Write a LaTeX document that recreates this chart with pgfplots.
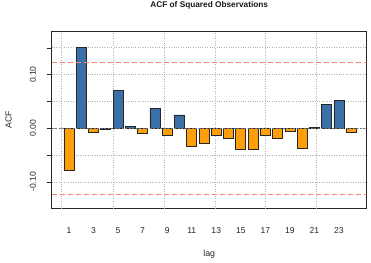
\documentclass[border=0pt]{standalone}
\usepackage{pgfplots}
\pgfplotsset{compat=1.18}
\usepackage{fontspec}
\setmainfont{Liberation Sans}
\definecolor{barblue}{RGB}{58,111,168}
\definecolor{barorange}{RGB}{255,158,11}
\definecolor{salmonred}{RGB}{250,128,114}
\begin{document}
\begin{tikzpicture}
\begin{axis}[
  scale only axis,
  width=315bp, height=176.6bp,
  xmin=-0.41, xmax=25.26,
  ymin=-0.149, ymax=0.18,
  axis line style={black!85, line width=0.8bp},
  xtick={1,3,...,23},
  xtick style={draw=none},
  ytick={-0.1,-0.05,0,0.05,0.1,0.15},
  yticklabels={-0.10,,0.00,,0.10,},
  ytick pos=left, xtick pos=bottom,
  tick align=outside,
  major tick length=5bp,
  ytick style={black!85, line width=0.6bp},
  ymajorgrids,
  extra x ticks={0.405,4.61,8.74,12.9,17.03,21.19},
  extra x tick labels={},
  extra x tick style={xmajorgrids=true, tick style={draw=none}},
  major grid style={black!30, dotted, line width=0.7bp},
  /pgf/number format/assume math mode=true,
  tick label style={font=\fontsize{8.6}{10}\selectfont, black!85},
  yticklabel style={rotate=90, anchor=center},
  yticklabel shift=13.7bp,
  xticklabel style={anchor=center},
  xticklabel shift=17bp,
]
\coordinate (bl) at (rel axis cs:0,0);
\coordinate (tr) at (rel axis cs:1,1);
\coordinate (bc) at (rel axis cs:0.5,0);
\coordinate (tc) at (rel axis cs:0.5,1);
\coordinate (lc) at (rel axis cs:0,0.5);
\addplot[salmonred, line width=0.9bp, dash pattern=on 5bp off 3bp, forget plot] coordinates {(-0.41,0.123) (25.26,0.123)};
\addplot[salmonred, line width=0.9bp, dash pattern=on 5bp off 3bp, forget plot] coordinates {(-0.41,-0.123) (25.26,-0.123)};
\addplot[ybar, bar width=0.82, bar shift=0pt, fill=barblue, draw=black!85, line width=0.7bp] coordinates {
(2,0.150) (5,0.071) (6,0.003) (8,0.0365) (10,0.025) (21,0.002) (22,0.045) (23,0.052)
};
\addplot[ybar, bar width=0.82, bar shift=0pt, fill=barorange, draw=black!85, line width=0.7bp] coordinates {
(1,-0.079) (3,-0.0075) (4,-0.002) (7,-0.009) (9,-0.013) (11,-0.0335) (12,-0.0286) (13,-0.013) (14,-0.019) (15,-0.040) (16,-0.039) (17,-0.013) (18,-0.019) (19,-0.005) (20,-0.038) (24,-0.008)
};
\addplot[black!55, line width=0.6bp, dash pattern=on 2bp off 1.5bp, forget plot] coordinates {(-0.41,0) (25.26,0)};
\addplot[salmonred, line width=0.9bp, dash pattern=on 5bp off 3bp, forget plot] coordinates {(-0.41,0.123) (25.26,0.123)};
\end{axis}
\node[font=\bfseries\fontsize{8.3}{10}\selectfont, black!90, anchor=center] at ([yshift=26.5bp]tc) {ACF of Squared Observations};
\node[font=\fontsize{8.8}{10}\selectfont, black!85, anchor=center] at ([yshift=-45.7bp]bc) {lag};
\node[font=\fontsize{8.8}{10}\selectfont, black!85, anchor=center, rotate=90] at ([xshift=-43.2bp]lc) {ACF};
\pgfresetboundingbox
\path ([shift={(-51.7bp,-54.7bp)}]bl) rectangle ([shift={(4.3bp,31.7bp)}]tr);
\end{tikzpicture}
\end{document}
